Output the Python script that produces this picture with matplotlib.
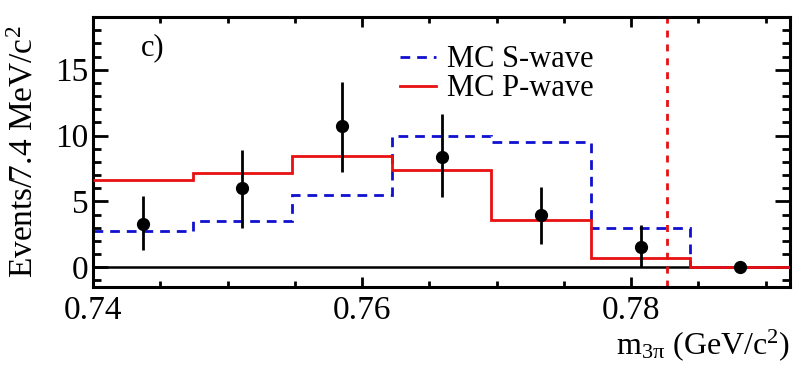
import numpy as np
import matplotlib
matplotlib.use('Agg')
import matplotlib.pyplot as plt
from matplotlib.lines import Line2D
from matplotlib.ticker import MultipleLocator

plt.rcParams['font.family'] = ['Liberation Serif', 'DejaVu Serif']
plt.rcParams['mathtext.fontset'] = 'custom'
plt.rcParams['mathtext.rm'] = 'Liberation Serif'
plt.rcParams['mathtext.it'] = 'Liberation Serif:italic'

# bin edges (7.4 MeV bins) and contents
bin_edges = [0.7400, 0.7474, 0.7548, 0.7622, 0.7696, 0.7770, 0.7844, 0.7918]
s_wave = [2.75, 3.5, 5.5, 9.95, 9.5, 2.95, 0.0]
p_wave = [6.65, 7.15, 8.45, 7.35, 3.6, 0.7, 0.0]

# data points
data_y = [3.3, 6.0, 10.7, 8.4, 4.0, 1.5, 0.0]
err_up = [2.1, 2.9, 3.4, 3.2, 2.1, 1.7, 0.0]
err_lo = [2.0, 3.0, 3.5, 3.1, 2.2, 1.5, 0.0]

omega_mass = 0.78265

fig = plt.figure(figsize=(7.95, 3.67), dpi=100)
ax = fig.add_axes([0.117, 0.218, 0.8767, 0.7357])

ax.axhline(0, color='black', lw=1.8, zorder=1)
ax.stairs(s_wave, bin_edges, baseline=None, color='#1010d0', lw=2.0,
          linestyle=(0, (3.5, 2.5)), zorder=2)
ax.stairs(p_wave, bin_edges, baseline=None, color='#e81010', lw=2.0, zorder=3)
ax.axvline(omega_mass, color='#e81010', lw=2.0, linestyle=(0, (2.5, 2.5)), zorder=2)

centers = [(bin_edges[i] + bin_edges[i + 1]) / 2 for i in range(len(data_y))]
ax.errorbar(centers, data_y, yerr=[err_lo, err_up], fmt='o', color='black',
            ms=8.5, elinewidth=2.0, capsize=0, zorder=4)

ax.set_xlim(0.74, 0.7918)
ax.set_ylim(-1.5, 19)
ax.xaxis.set_major_locator(MultipleLocator(0.02))
ax.xaxis.set_minor_locator(MultipleLocator(0.005))
ax.yaxis.set_major_locator(MultipleLocator(5))
ax.yaxis.set_minor_locator(MultipleLocator(1))
ax.xaxis.set_major_formatter(matplotlib.ticker.FormatStrFormatter('%.2f'))

ax.tick_params(which='both', direction='in', top=True, right=True, width=2.0,
               labelsize=24)
ax.tick_params(axis='x', which='major', length=7.5, pad=6)
ax.tick_params(axis='x', which='minor', length=4.5)
ax.tick_params(axis='y', which='major', length=11, pad=3)
ax.tick_params(axis='y', which='minor', length=6)
for sp in ax.spines.values():
    sp.set_linewidth(2.2)

ax.set_ylabel('Events/7.4 MeV/c$^{2}$', fontsize=24)
ax.yaxis.set_label_coords(-0.077, 0.5)
ax.set_xlabel('m$_{\\mathrm{3π}}$ (GeV/c$^{2}$)', fontsize=23, ha='right')
ax.xaxis.set_label_coords(1.0, -0.15)

ax.text(0.086, 0.885, 'c)', transform=ax.transAxes, fontsize=22,
        ha='center', va='center')

handles = [Line2D([], [], color='#1010d0', lw=2.0, linestyle=(0, (3.5, 2.5))),
           Line2D([], [], color='#e81010', lw=2.0)]
ax.legend(handles, ['MC S-wave', 'MC P-wave'], loc='upper left',
          bbox_to_anchor=(0.44, 0.895), frameon=False, fontsize=22,
          handlelength=1.2, handletextpad=0.35, labelspacing=0.0,
          borderpad=0, borderaxespad=0)

fig.savefig('out.png', dpi=100)
